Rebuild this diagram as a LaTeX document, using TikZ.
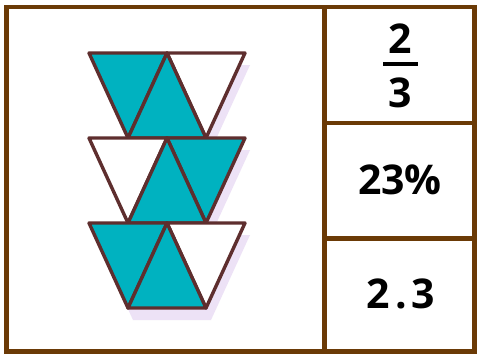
\documentclass[tikz,border=0pt]{standalone}
\usepackage{fontspec}
\setmainfont{Open Sans}
\definecolor{frame}{HTML}{6B3A06}
\definecolor{tealc}{HTML}{00B2C0}
\definecolor{edge}{HTML}{5E2E2E}
\definecolor{lavshade}{HTML}{EDE2F6}
\tikzset{
  tri/.style={draw=edge, line width=3.4pt, line join=round},
  num/.style={font=\fontsize{41}{41}\selectfont\bfseries, inner sep=0pt, anchor=base},
  framel/.style={draw=frame, line width=4.6pt}
}
\begin{document}
\begin{tikzpicture}[x=1pt,y=-1pt]
\useasboundingbox (0,0) rectangle (477,354);
\fill[white] (0,0) rectangle (477,354);
% shadows
\foreach \t in {53,138,223}{
  \fill[lavshade] (89+5,\t+12) -- (245+5,\t+12) -- (206+5,\t+85+12) -- (128+5,\t+85+12) -- cycle;
}
% rows: left down, right down, middle up fills
\newcommand{\trow}[3]{%
  \filldraw[tri, fill=#2] (89,#1) -- (167,#1) -- (128,#1+85) -- cycle;
  \filldraw[tri, fill=#3] (167,#1) -- (245,#1) -- (206,#1+85) -- cycle;
  \filldraw[tri, fill=tealc] (128,#1+85) -- (206,#1+85) -- (167,#1) -- cycle;
}
\trow{53}{tealc}{white}
\trow{138}{white}{tealc}
\trow{223}{tealc}{white}
% frame
\draw[framel] (6.5,7) rectangle (474.5,351.5);
\draw[framel] (324.5,7) -- (324.5,351.5);
\draw[framel] (324.5,123) -- (474.5,123);
\draw[framel] (324.5,238.5) -- (474.5,238.5);
% texts
\node[num] (n2) at (400,53) {2};
\draw[line width=4.5pt] (383,64) -- (418,64);
\node[num] (n3) at (400,107) {3};
\node[num] (pc) at (400,194) {23\%};
\node[num] (dec) at (401,308) {2\kern5pt.\kern5pt3};
\end{tikzpicture}
\end{document}
